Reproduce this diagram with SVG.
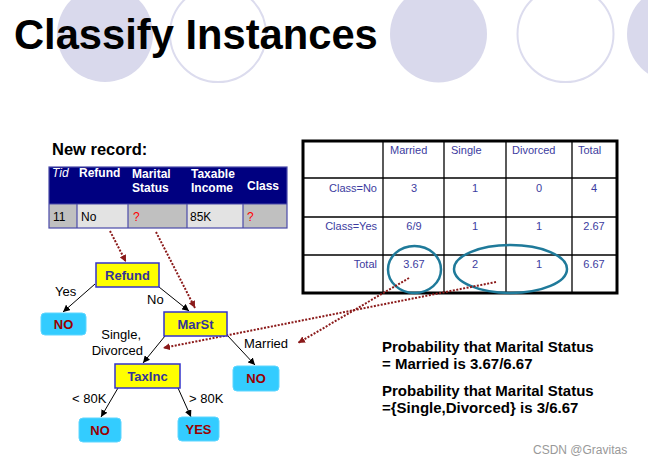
<svg xmlns="http://www.w3.org/2000/svg" width="648" height="465" viewBox="0 0 648 465">
<defs>
<style>
text{font-family:"Liberation Sans",Arial,sans-serif}
.bgf{fill:#d9d9ec}
.bgo{fill:none;stroke:#dcdcee;stroke-width:2}
.hd{fill:#fff;font-size:12px;font-weight:bold}
.rc{font-size:12px;fill:#000}
.ct{font-size:11px;fill:#3c3ca0}
.grid{stroke:#000;stroke-width:1.3;fill:none}
.inner{fill:#ffff00;stroke:#3333cc;stroke-width:1.5}
.inl{font-size:13px;font-weight:bold;fill:#333399;text-anchor:middle}
.leaf{fill:#33ccff;stroke:#5fd6ff;stroke-width:1}
.lfl{font-size:13px;font-weight:bold;fill:#990000;text-anchor:middle}
.el{font-size:13px;fill:#000}
.edge{stroke:#000;stroke-width:1;fill:none}
.dot{stroke:#8b1a1a;stroke-width:2;stroke-dasharray:2 1.5;fill:none}
.ov{fill:none;stroke:#1f7a9a;stroke-width:2.5}
.pr{font-size:15px;font-weight:bold;fill:#000}
</style>
<marker id="ab" viewBox="0 0 10 10" refX="10" refY="5" markerWidth="7" markerHeight="7" markerUnits="userSpaceOnUse" orient="auto"><path d="M0,0 L10,5 L0,10 z" fill="#000"/></marker>
<marker id="ar" viewBox="0 0 10 10" refX="10" refY="5" markerWidth="7" markerHeight="7" markerUnits="userSpaceOnUse" orient="auto"><path d="M0,0 L10,5 L0,10 z" fill="#8b1a1a"/></marker>
</defs>
<rect width="648" height="465" fill="#fff"/>
<g id="background">
<circle class="bgf" cx="105" cy="34" r="48"/>
<circle class="bgo" cx="218" cy="34" r="48"/>
<circle class="bgf" cx="438.5" cy="34" r="48.5"/>
<circle class="bgo" cx="565.5" cy="34" r="48"/>
<circle class="bgf" cx="675" cy="34" r="48"/>
</g>
<text x="14" y="49" font-size="41.7" font-weight="bold" fill="#000">Classify Instances</text>

<g id="record">
<text x="52" y="155" font-size="16.5" font-weight="bold" fill="#000">New record:</text>
<rect x="49" y="167" width="238" height="37" fill="#000080"/>
<rect x="49" y="204" width="28" height="24" fill="#c0c0c0"/>
<rect x="77" y="204" width="51" height="24" fill="#e3e3e3"/>
<rect x="128" y="204" width="59" height="24" fill="#c0c0c0"/>
<rect x="187" y="204" width="56" height="24" fill="#e3e3e3"/>
<rect x="243" y="204" width="44" height="24" fill="#c0c0c0"/>
<g stroke="#4a4aa8" stroke-width="1.2" fill="none">
<rect x="49" y="167" width="238" height="61"/>
<line x1="49" y1="204" x2="287" y2="204"/>
<line x1="77" y1="204" x2="77" y2="228"/>
<line x1="128" y1="204" x2="128" y2="228"/>
<line x1="187" y1="204" x2="187" y2="228"/>
<line x1="243" y1="204" x2="243" y2="228"/>
</g>
<text x="52" y="177" fill="#fff" font-size="12" font-style="italic">Tid</text>
<text class="hd" x="79" y="177">Refund</text>
<text class="hd" x="132" y="178">Marital</text>
<text class="hd" x="132" y="192">Status</text>
<text class="hd" x="191" y="178">Taxable</text>
<text class="hd" x="191" y="192">Income</text>
<text class="hd" x="247" y="190">Class</text>
<text class="rc" x="53" y="221">11</text>
<text class="rc" x="81" y="221">No</text>
<text class="rc" x="133" y="221" fill="#ff0000" style="fill:#ff0000">?</text>
<text class="rc" x="190" y="221">85K</text>
<text class="rc" x="247" y="221" style="fill:#ff0000">?</text>
</g>

<g id="counts-table">
<rect x="303" y="141" width="314" height="152" fill="none" stroke="#000" stroke-width="3"/>
<g class="grid">
<line x1="383" y1="141" x2="383" y2="293"/>
<line x1="444" y1="141" x2="444" y2="293"/>
<line x1="506" y1="141" x2="506" y2="293"/>
<line x1="572" y1="141" x2="572" y2="293"/>
<line x1="303" y1="178" x2="617" y2="178"/>
<line x1="303" y1="217" x2="617" y2="217"/>
<line x1="303" y1="255" x2="617" y2="255"/>
</g>
<text class="ct" x="390" y="154">Married</text>
<text class="ct" x="451" y="154">Single</text>
<text class="ct" x="512" y="154">Divorced</text>
<text class="ct" x="578" y="154">Total</text>
<g text-anchor="end">
<text class="ct" x="377" y="192">Class=No</text>
<text class="ct" x="377" y="230">Class=Yes</text>
<text class="ct" x="377" y="268">Total</text>
</g>
<g text-anchor="middle">
<text class="ct" x="414" y="192">3</text>
<text class="ct" x="475" y="192">1</text>
<text class="ct" x="539" y="192">0</text>
<text class="ct" x="594" y="192">4</text>
<text class="ct" x="414" y="230">6/9</text>
<text class="ct" x="475" y="230">1</text>
<text class="ct" x="539" y="230">1</text>
<text class="ct" x="594" y="230">2.67</text>
<text class="ct" x="414" y="268">3.67</text>
<text class="ct" x="475" y="268">2</text>
<text class="ct" x="539" y="268">1</text>
<text class="ct" x="594" y="268">6.67</text>
</g>
<ellipse class="ov" cx="414.5" cy="269.5" rx="26.5" ry="23.5"/>
<ellipse class="ov" cx="510.5" cy="269" rx="56.5" ry="24"/>
</g>

<g id="connectors">
<path class="edge" d="M95,284 L63,312" marker-end="url(#ab)"/>
<path class="edge" d="M159,287 L189,311" marker-end="url(#ab)"/>
<path class="edge" d="M165,336 L143,363" marker-end="url(#ab)"/>
<path class="edge" d="M227,335 L255,365" marker-end="url(#ab)"/>
<path class="edge" d="M118,388 L101,417" marker-end="url(#ab)"/>
<path class="edge" d="M178,388 L191,417" marker-end="url(#ab)"/>
<path class="dot" d="M110,231 L126,262" marker-end="url(#ar)"/>
<path class="dot" d="M156,232 L195,308" marker-end="url(#ar)"/>
<path class="dot" d="M496,282 L163,348" marker-end="url(#ar)"/>
<path class="dot" d="M409,278 L298,343" marker-end="url(#ar)"/>
</g>

<g id="edge-labels">
<text class="el" x="55" y="296">Yes</text>
<text class="el" x="147" y="304">No</text>
<text class="el" x="141" y="339" text-anchor="end">Single,</text>
<text class="el" x="143" y="355" text-anchor="end">Divorced</text>
<text class="el" x="244" y="348">Married</text>
<text class="el" x="72" y="403">&lt; 80K</text>
<text class="el" x="189" y="403">&gt; 80K</text>
</g>

<g id="node-refund"><rect class="inner" x="96" y="263" width="63" height="24"/><text class="inl" x="127.5" y="280">Refund</text></g>
<g id="node-marst"><rect class="inner" x="164" y="312" width="63" height="24"/><text class="inl" x="195.5" y="329">MarSt</text></g>
<g id="node-taxinc"><rect class="inner" x="115" y="364" width="65" height="24"/><text class="inl" x="147.5" y="381">TaxInc</text></g>
<g id="leaf-no1"><rect class="leaf" x="41" y="313" width="45" height="22" rx="4"/><text class="lfl" x="63.5" y="329">NO</text></g>
<g id="leaf-no2"><rect class="leaf" x="233" y="366" width="46" height="25" rx="4"/><text class="lfl" x="256" y="383">NO</text></g>
<g id="leaf-no3"><rect class="leaf" x="79" y="418" width="42" height="24" rx="4"/><text class="lfl" x="100" y="435">NO</text></g>
<g id="leaf-yes"><rect class="leaf" x="178" y="417" width="41" height="24" rx="4"/><text class="lfl" x="198.5" y="434">YES</text></g>

<g id="probability">
<text class="pr" x="382" y="352">Probability that Marital Status</text>
<text class="pr" x="382" y="369">= Married is 3.67/6.67</text>
<text class="pr" x="382" y="396">Probability that Marital Status</text>
<text class="pr" x="382" y="413">={Single,Divorced} is 3/6.67</text>
</g>
<text x="533" y="454" font-size="12" fill="#999">CSDN @Gravitas</text>
</svg>
